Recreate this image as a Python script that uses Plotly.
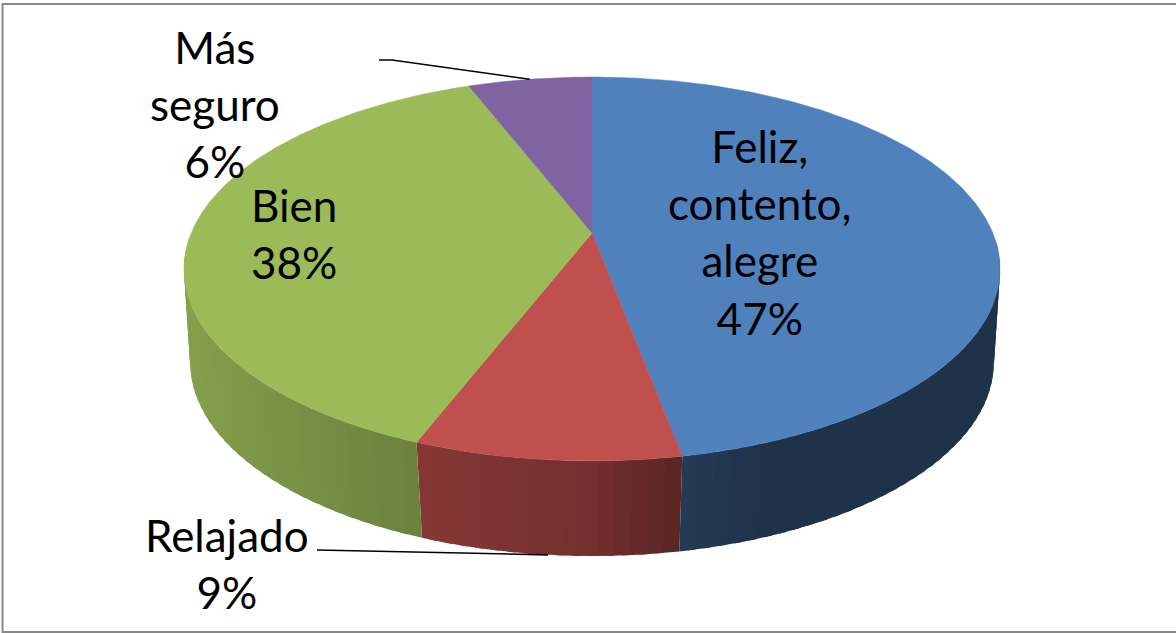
import numpy as np
import plotly.graph_objects as go

# Data
categories = ["Feliz,<br>contento,<br>alegre", "Relajado", "Bien", "Más<br>seguro"]
values = [16, 3, 13, 2]
colors = [(79, 129, 189), (192, 80, 77), (155, 187, 89), (128, 100, 162)]

# Layout of the drawing (perspective disc in page-pixel axes)
label_pos = [(760, 232), (227, 563.5), (294, 233), (215, 104)]
CX = 592
TOP = dict(y0=233, A=400.8, B=185.25, k=0.1875)
BOT = dict(y0=329.5, A=396.0, B=188.0, k=0.17)
shade_u = [-1.0, -0.9, -0.37, 0.0, 0.187, 0.35, 1.0]
shade_f = [0.86, 0.85, 0.70, 0.60, 0.46, 0.39, 0.39]


def project(theta_deg, d):
    t = np.radians(theta_deg)
    u, v = np.sin(t), np.cos(t)
    w = 1 + d["k"] * v
    return CX + d["A"] * u / w, d["y0"] - d["B"] * v / w


total = sum(values)
edges = np.cumsum([0] + values) / total * 360.0

fig = go.Figure()

# Side wall, drawn as narrow shaded strips that overlap slightly to avoid seams
STEP = 2.0
OVERLAP = 1.0
for i, rgb in enumerate(colors):
    a, b = max(edges[i], 92.0), min(edges[i + 1], 268.0)
    if a >= b:
        continue
    n = max(1, int(np.ceil((b - a) / STEP)))
    th = np.linspace(a, b, n + 1)
    for t0, t1 in zip(th[:-1], th[1:]):
        f = np.interp(np.sin(np.radians((t0 + t1) / 2)), shade_u, shade_f)
        col = "rgb(%d,%d,%d)" % tuple(int(c * f) for c in rgb)
        te = min(t1 + OVERLAP, b)
        arc = np.array([t0, (t0 + te) / 2, te])
        xt, yt = project(arc, TOP)
        xb, yb = project(arc[::-1], BOT)
        fig.add_trace(go.Scatter(
            x=list(xt) + list(xb), y=list(yt) + list(yb),
            mode="lines", fill="toself", fillcolor=col,
            line=dict(color=col, width=0), hoverinfo="skip", showlegend=False))

# Top face
for i, rgb in enumerate(colors):
    th = np.linspace(edges[i], edges[i + 1], 200)
    x, y = project(th, TOP)
    col = "rgb(%d,%d,%d)" % rgb
    fig.add_trace(go.Scatter(
        x=[CX] + list(x) + [CX], y=[TOP["y0"]] + list(y) + [TOP["y0"]],
        mode="lines", fill="toself", fillcolor=col,
        line=dict(color=col, width=0.5), name=categories[i].replace("<br>", " "),
        hoverinfo="skip", showlegend=False))

# Leader lines to the two outside labels
mid = (edges[:-1] + edges[1:]) / 2
x3, y3 = project(mid[3], TOP)
fig.add_trace(go.Scatter(x=[379, 392, x3], y=[60, 60, y3], mode="lines",
                         line=dict(color="black", width=1.5),
                         hoverinfo="skip", showlegend=False))
x1, y1 = project(mid[1], BOT)
fig.add_trace(go.Scatter(x=[317, x1], y=[550, y1], mode="lines",
                         line=dict(color="black", width=1.6),
                         hoverinfo="skip", showlegend=False))

# Labels
for cat, val, (lx, ly) in zip(categories, values, label_pos):
    fig.add_annotation(x=lx, y=ly, xref="x", yref="y", showarrow=False,
                       text=f"{cat}<br>{round(val / total * 100)}%", align="center",
                       xanchor="center", yanchor="middle",
                       font=dict(family="Lato", size=44, color="black"))

# Frame
fig.add_shape(type="rect", x0=2.5, x1=1190, y0=4, y1=632, xref="x", yref="y",
              line=dict(color="rgb(136,136,136)", width=2), layer="below")

fig.update_layout(
    width=1176, height=633, margin=dict(l=0, r=0, t=0, b=0),
    paper_bgcolor="white", plot_bgcolor="white", showlegend=False,
    xaxis=dict(range=[0, 1176], visible=False, fixedrange=True),
    yaxis=dict(range=[633, 0], visible=False, fixedrange=True),
)
fig.write_html("out.html", post_script="document.body.style.margin='0';document.body.style.overflow='hidden';",
               config={"displayModeBar": False})
